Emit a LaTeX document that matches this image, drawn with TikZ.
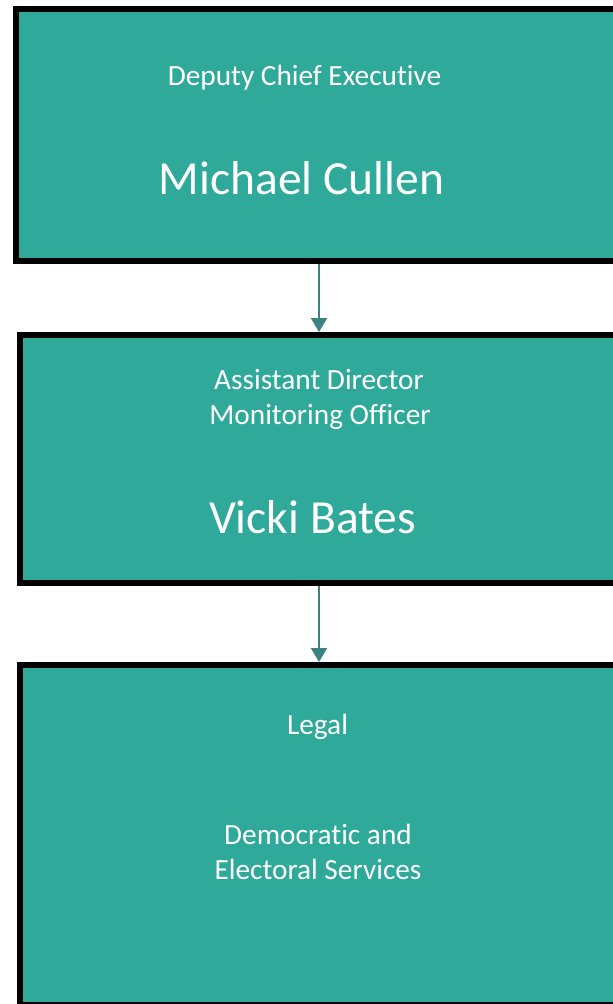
\documentclass[tikz,border=0pt]{standalone}
\usepackage{fontspec}
\setmainfont{Carlito}[Ligatures={NoCommon}]
\usetikzlibrary{arrows.meta}
\definecolor{tealfill}{RGB}{46,169,154}
\definecolor{arrowteal}{RGB}{58,131,128}
\tikzset{
  orgbox/.style={rectangle, draw=black, line width=6pt, fill=tealfill, inner sep=0pt},
  small/.style={anchor=base, text=white, font=\fontsize{29.3}{35}\selectfont, inner sep=0pt},
  big/.style={anchor=base, text=white, font=\fontsize{47.5}{56}\selectfont, inner sep=0pt},
  link/.style={draw=arrowteal, line width=2pt, -{Triangle[width=16pt,length=14pt]}}
}
\begin{document}
\begin{tikzpicture}[x=1pt,y=1pt]
\useasboundingbox (0,0) rectangle (613,-1004);
\clip (0,0) rectangle (613,-1004);
\fill[white] (0,0) rectangle (613,-1004);
\node[orgbox, minimum width=624pt, minimum height=252pt] (b1) at (328,-135) {};
\node[orgbox, minimum width=620pt, minimum height=248pt] (b2) at (330,-459) {};
\node[orgbox, minimum width=620pt, minimum height=340pt] (b3) at (330,-835) {};
\node[small] (t1) at (304.5,-85) {Deputy Chief Executive};
\node[big] (n1) at (301.5,-194) {Michael Cullen};
\node[small] (t2) at (319,-389) {Assistant Director};
\node[small] (t3) at (320,-424) {Monitoring Officer};
\node[big] (n2) at (312.5,-533) {Vicki Bates};
\node[small] (t4) at (317.5,-734) {Legal};
\node[small] (t5) at (318,-844) {Democratic and};
\node[small] (t6) at (318,-879) {Electoral Services};
\coordinate (ax) at (319,0);
\draw[link] (b1.south -| ax) -- (b2.north -| ax);
\draw[link] (b2.south -| ax) -- (b3.north -| ax);
\end{tikzpicture}
\end{document}
